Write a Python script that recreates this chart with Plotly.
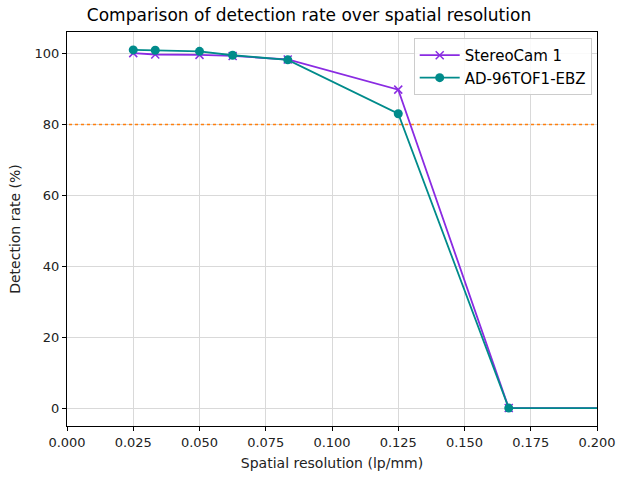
import plotly.graph_objects as go

x_vals = [0.025, 0.0333, 0.05, 0.0625, 0.0833, 0.125, 0.1667, 0.25]
stereo = [100.1, 99.7, 99.6, 99.3, 98.3, 89.8, 0.0, 0.0]
tof = [101.0, 100.9, 100.6, 99.5, 98.2, 83.0, 0.0, 0.0]
threshold = 80
xticks = [0.0, 0.025, 0.05, 0.075, 0.1, 0.125, 0.15, 0.175, 0.2]
yticks = [0, 20, 40, 60, 80, 100]

font = "DejaVu Sans"
fig = go.Figure()
fig.add_trace(go.Scatter(x=[-1, 1], y=[threshold, threshold], mode="lines",
                         line=dict(color="#ff7f0e", width=1.5, dash="dot"),
                         showlegend=False, hoverinfo="skip"))
fig.add_trace(go.Scatter(x=x_vals, y=stereo, mode="lines+markers", name="StereoCam 1",
                         line=dict(color="#8a2be2", width=1.8),
                         marker=dict(symbol="x-thin", size=8, line=dict(color="#8a2be2", width=1.5))))
fig.add_trace(go.Scatter(x=x_vals, y=tof, mode="lines+markers", name="AD-96TOF1-EBZ",
                         line=dict(color="#008b8b", width=1.8),
                         marker=dict(symbol="circle", size=9, color="#008b8b")))

axis_common = dict(showgrid=True, gridcolor="#d9d9d9", gridwidth=1, zeroline=False,
                   showline=True, linecolor="black", linewidth=1, mirror=True,
                   ticks="outside", ticklen=4, tickcolor="black", automargin=False,
                   tickfont=dict(family=font, size=13, color="#222222"))
fig.update_xaxes(range=[0, 0.2], tickvals=xticks, ticktext=[f"{v:.3f}" for v in xticks],
                 title=dict(text="Spatial resolution (lp/mm)", font=dict(family=font, size=14, color="#222222"), standoff=9),
                 **axis_common)
fig.update_yaxes(range=[-5.05, 106.05], tickvals=yticks,
                 title=dict(text="Detection rate (%)", font=dict(family=font, size=14, color="#222222"), standoff=10),
                 **axis_common)
fig.update_layout(
    width=618, height=478,
    margin=dict(l=67, r=21, t=32, b=52),
    paper_bgcolor="white", plot_bgcolor="white",
    title=dict(text="Comparison of detection rate over spatial resolution", x=0.5, xanchor="center",
               y=0.968, yanchor="middle", font=dict(family=font, size=17, color="black")),
    legend=dict(x=0.99, y=0.985, xanchor="right", yanchor="top",
                bgcolor="rgba(255,255,255,0.85)", bordercolor="#cccccc", borderwidth=1,
                itemwidth=40, tracegroupgap=2,
                font=dict(family=font, size=15, color="black")),
    showlegend=True,
)
fig.write_html("out.html")
